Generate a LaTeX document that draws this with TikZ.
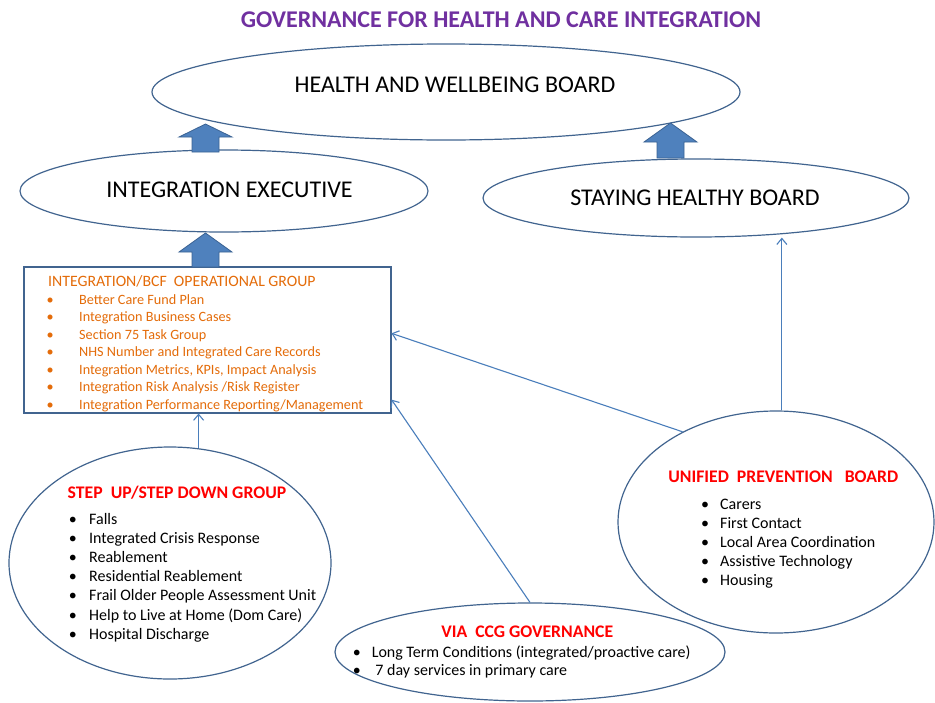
\documentclass[tikz,border=0pt]{standalone}
\usepackage{fontspec}
\setmainfont{Carlito}
\usetikzlibrary{shapes.geometric,arrows.meta}
\definecolor{edgeblue}{HTML}{41648F}
\definecolor{linkblue}{HTML}{4A7EBB}
\definecolor{arrowfill}{HTML}{4F81BD}
\definecolor{arrowedge}{HTML}{3A6293}
\definecolor{titlepurple}{HTML}{7030A0}
\definecolor{opsorange}{HTML}{E46C0A}
\newcommand{\itembul}[1]{\makebox[#1][l]{\textbullet}}
\tikzset{
  board/.style={ellipse, draw=edgeblue, line width=1.2pt, inner sep=0pt},
  bigtext/.style={font=\fontsize{24}{28}\selectfont, inner sep=0pt},
  redhead/.style={font=\bfseries\fontsize{17.7}{21}\selectfont, text=red, inner sep=0pt, anchor=base},
  item/.style={font=\fontsize{16}{19}\selectfont, inner sep=0pt, anchor=base west},
  opsitem/.style={font=\fontsize{14.2}{17}\selectfont, text=opsorange, inner sep=0pt, anchor=base west},
  blockup/.style={fill=arrowfill, draw=arrowedge, line width=0.8pt, line join=miter},
  link/.style={draw=linkblue, line width=1.1pt, >={Straight Barb[length=6pt,width=10pt]}, ->}
}
\begin{document}
\begin{tikzpicture}[x=1pt,y=-1pt]
\fill[white] (0,0) rectangle (935,702);
\useasboundingbox (0,0) rectangle (935,702);

\node[font=\bfseries\fontsize{24}{28}\selectfont, text=titlepurple, inner sep=0pt] (govtitle) at (501,20) {GOVERNANCE FOR HEALTH AND CARE INTEGRATION};

% boards
\node[board, minimum width=588, minimum height=96] (hwb) at (446,92) {};
\node[bigtext] (hwbtext) at (455,85) {HEALTH AND WELLBEING BOARD};
\node[board, minimum width=408, minimum height=82] (intexec) at (224,191) {};
\node[bigtext] (intexectext) at (229.5,190) {INTEGRATION EXECUTIVE};
\node[board, minimum width=426, minimum height=78] (shb) at (696,198) {};
\node[bigtext] (shbtext) at (695,198) {STAYING HEALTHY BOARD};

% operational group
\node[draw=edgeblue, line width=1.5pt, inner sep=0pt, minimum width=367, minimum height=146, anchor=north west] (opgroup) at (23,266) {};
\node[font=\fontsize{15.8}{19}\selectfont, text=opsorange, inner sep=0pt, anchor=base west] (optitle) at (48,286.8) {INTEGRATION/BCF\ \ OPERATIONAL GROUP};
\foreach \t [count=\i] in {Better Care Fund Plan, Integration  Business Cases, Section 75 Task Group,
    NHS Number and Integrated  Care Records, {Integration  Metrics, KPIs, Impact Analysis},
    Integration  Risk Analysis /Risk Register, Integration  Performance  Reporting/Management}
  \node[opsitem] (op\i) at (46.4,{304.2+17.5*(\i-1)}) {\itembul{32.6pt}\t};

% step up / step down
\node[board, minimum width=322, minimum height=232] (stepup) at (170,563) {};
\node[redhead] (stepuptitle) at (177,498.7) {STEP\ \ UP/STEP DOWN GROUP};
\foreach \t [count=\i] in {Falls, Integrated Crisis Response, Reablement, Residential Reablement,
    Frail Older People Assessment Unit, Help to Live at Home (Dom Care), Hospital Discharge}
  \node[item] (su\i) at (68.6,{524+19.2*(\i-1)}) {\itembul{20.4pt}\t};

% ccg
\node[board, minimum width=390, minimum height=98] (ccg) at (530,652) {};
\node[redhead] (ccgtitle) at (527.3,637.4) {VIA\ \ CCG GOVERNANCE};
\foreach \t [count=\i] in {Long Term Conditions (integrated/proactive care), \ 7 day services in primary care}
  \node[item] (ccg\i) at (352.6,{657.8+18*(\i-1)}) {\itembul{19pt}\t};

% unified prevention
\node[board, minimum width=316, minimum height=222] (upb) at (776,522) {};
\node[redhead] (upbtitle) at (783.3,482.4) {UNIFIED\ \ PREVENTION\ \ \ BOARD};
\foreach \t [count=\i] in {Carers, First Contact, Local Area Coordination, Assistive Technology, Housing}
  \node[item] (upb\i) at (701,{509.8+19*(\i-1)}) {\itembul{19pt}\t};

% block arrows
\foreach \c/\t/\h/\b in {205.5/124/137/152, 670.5/123/142/158, 205.5/233/252/267}
  \draw[blockup] (\c-13.5,\b) -- (\c-13.5,\h) -- (\c-26.5,\h) -- (\c,\t) -- (\c+26.5,\h) -- (\c+13.5,\h) -- (\c+13.5,\b) -- cycle;

% links
\draw[link] (stepup.76) -- (stepup.76 |- opgroup.south);
\draw[link] (ccg.north) -- (opgroup.-18);
\draw[link] (upb.136) -- (opgroup.2);
\draw[link] (upb.87) -- (upb.87 |- shb.south);
\end{tikzpicture}
\end{document}
